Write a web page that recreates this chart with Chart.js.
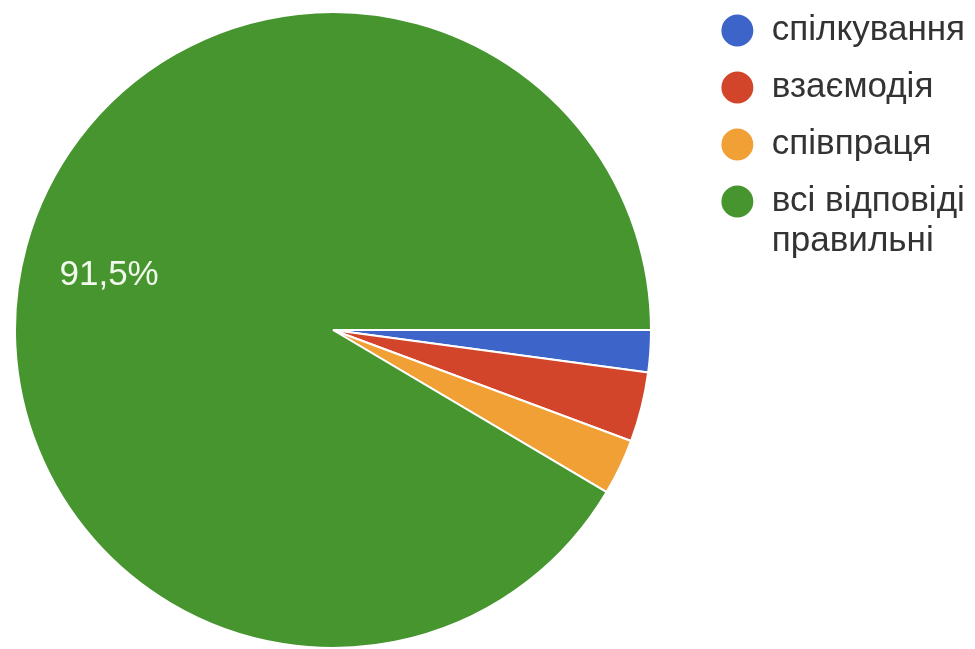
<!DOCTYPE html>
<html>
<head>
<meta charset="utf-8">
<script src="https://cdn.jsdelivr.net/npm/chart.js@4/dist/chart.umd.min.js"></script>
<style>
  html, body { margin: 0; padding: 0; background: #fff; }
  #wrap { width: 975px; height: 649px; position: relative; }
</style>
</head>
<body>
<div id="wrap"><canvas id="answersPie"></canvas></div>
<script>
// answers (count of responses)
const answerLabels = ["спілкування", "взаємодія", "співпраця", ["всі відповіді", "правильні"]];
const answerCounts = [3, 5, 4, 129];
const answerColors = ["#3d65c9", "#d2452a", "#f0a035", "#46952f"];

const fontFamily = "'Liberation Sans', Arial, sans-serif";

// keep the pie on the left part of the canvas, legend keeps its own box
const pieArea = {
    id: "pieArea",
    afterLayout(chart) {
        chart.chartArea = { left: 15, top: 12, right: 651, bottom: 648, width: 636, height: 636 };
    },
};

// percent labels inside the big slices, comma decimal like the form summary
const sliceLabels = {
    id: "sliceLabels",
    afterDatasetsDraw(chart) {
        const ctx = chart.ctx;
        const meta = chart.getDatasetMeta(0);
        const total = answerCounts.reduce((a, b) => a + b, 0);
        ctx.save();
        ctx.fillStyle = "#f1f8ec";
        ctx.font = "35px " + fontFamily;
        ctx.textAlign = "center";
        ctx.textBaseline = "middle";
        meta.data.forEach(function (arc, i) {
            const share = answerCounts[i] / total;
            if (share < 0.05) return;
            const p = arc.getProps(["x", "y", "startAngle", "endAngle", "outerRadius"], true);
            const mid = (p.startAngle + p.endAngle) / 2;
            const r = p.outerRadius * 0.73;
            const text = (share * 100).toFixed(1).replace(".", ",") + "%";
            ctx.fillText(text, p.x + Math.cos(mid) * r, p.y + Math.sin(mid) * r + 7);
        });
        ctx.restore();
    },
};

new Chart(document.getElementById("answersPie"), {
    type: "pie",
    data: {
        labels: answerLabels,
        datasets: [
            {
                data: answerCounts,
                backgroundColor: answerColors,
                borderColor: "#ffffff",
                borderWidth: 2,
                radius: 318,
            },
        ],
    },
    options: {
        responsive: true,
        maintainAspectRatio: false,
        animation: false,
        rotation: 90,
        layout: {
            padding: { top: -9, bottom: 0, left: 0, right: 0 },
        },
        plugins: {
            tooltip: { enabled: false },
            legend: {
                position: "right",
                align: "start",
                labels: {
                    usePointStyle: true,
                    pointStyle: "circle",
                    boxWidth: 34,
                    boxHeight: 24,
                    padding: 22,
                    color: "#333333",
                    font: { family: fontFamily, size: 35, lineHeight: 1.15 },
                },
            },
        },
    },
    plugins: [pieArea, sliceLabels],
});
</script>
</body>
</html>
